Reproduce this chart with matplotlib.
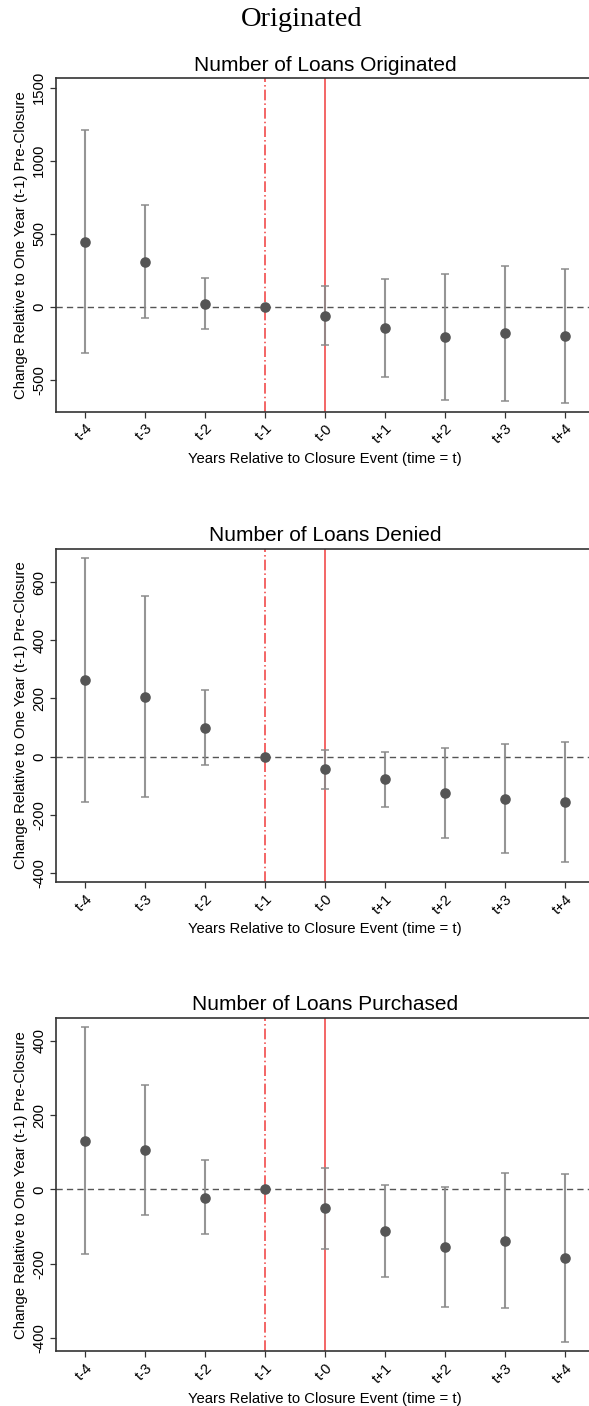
import matplotlib
matplotlib.use("Agg")
import matplotlib.pyplot as plt
import numpy as np

plt.rcParams['font.family'] = ['Liberation Sans', 'DejaVu Sans']

labels = ["t-4", "t-3", "t-2", "t-1", "t-0", "t+1", "t+2", "t+3", "t+4"]
xpos = np.arange(-4, 5)

# panel 1 : originated
orig_est = [445, 304, 18, 0, -62, -148, -210, -182, -201]
orig_hi = [1210, 694, 194, 0, 140, 188, 222, 277, 256]
orig_lo = [-319, -80, -153, 0, -262, -481, -639, -644, -657]

# panel 2 : denied
den_est = [263, 206, 100, 0, -43, -78, -126, -145, -156]
den_hi = [682, 553, 229, 0, 23, 17, 28, 43, 50]
den_lo = [-157, -140, -29, 0, -111, -172, -281, -332, -361]

# panel 3 : purchased
pur_est = [130, 105, -22, 0, -50, -112, -155, -138, -185]
pur_hi = [437, 281, 78, 0, 59, 11, 7, 44, 41]
pur_lo = [-175, -70, -120, 0, -160, -235, -316, -320, -412]

panels = [
    ("Number of Loans Originated", orig_est, orig_lo, orig_hi,
     [-500, 0, 500, 1000, 1500], (-719, 1564), 0.7072),
    ("Number of Loans Denied", den_est, den_lo, den_hi,
     [-400, -200, 0, 200, 400, 600], (-432, 714), 0.3725),
    ("Number of Loans Purchased", pur_est, pur_lo, pur_hi,
     [-400, -200, 0, 200, 400], (-436, 462), 0.0389),
]

fig = plt.figure(figsize=(5.89, 14.06), dpi=100)
fig.text(302/589, 1 - 26/1406, "Originated", ha='center', va='baseline',
         fontsize=20.5, family=['Liberation Serif', 'DejaVu Serif'])

fs = 10.7
for title, est, lo, hi, yt, ylim, bot in panels:
    ax = fig.add_axes([56/589, bot, 538/589, 0.2371])
    est = np.array(est, dtype=float)
    err = np.array([est - np.array(lo), np.array(hi) - est])
    ax.axhline(0, color='#555555', lw=1.0, ls=(0, (4.5, 3)), zorder=1)
    ax.axvline(-1, color='#f03c3c', lw=1.1, ls=(0, (7, 2, 1, 2)), zorder=1)
    ax.axvline(0, color='#f03c3c', lw=1.1, zorder=1)
    ax.errorbar(xpos, est, yerr=err, fmt='none', ecolor='#8a8a8a', elinewidth=1.5,
                capsize=3, capthick=1.2, alpha=0.9, zorder=2)
    ax.plot(xpos, est, 'o', color='#555555', ms=6.6, zorder=3)
    ax.set_xlim(-4.483, 4.483)
    ax.set_ylim(*ylim)
    ax.set_yticks(yt)
    ax.set_yticklabels([str(v) for v in yt], rotation=90, va='center', fontsize=fs)
    ax.set_xticks(xpos)
    ax.set_xticklabels(labels, rotation=45, ha='right', rotation_mode='anchor', fontsize=fs)
    ax.tick_params(length=4, width=0.9, color='#333333', pad=3)
    for s in ax.spines.values():
        s.set_color('#333333')
        s.set_linewidth(1.2)
    ax.set_title(title, fontsize=15, pad=5.5)
    ax.set_xlabel("Years Relative to Closure Event (time = t)", fontsize=fs, labelpad=4)
    ax.set_ylabel("Change Relative to One Year (t-1) Pre-Closure", fontsize=fs, labelpad=3)

fig.savefig("out.png", dpi=100)
